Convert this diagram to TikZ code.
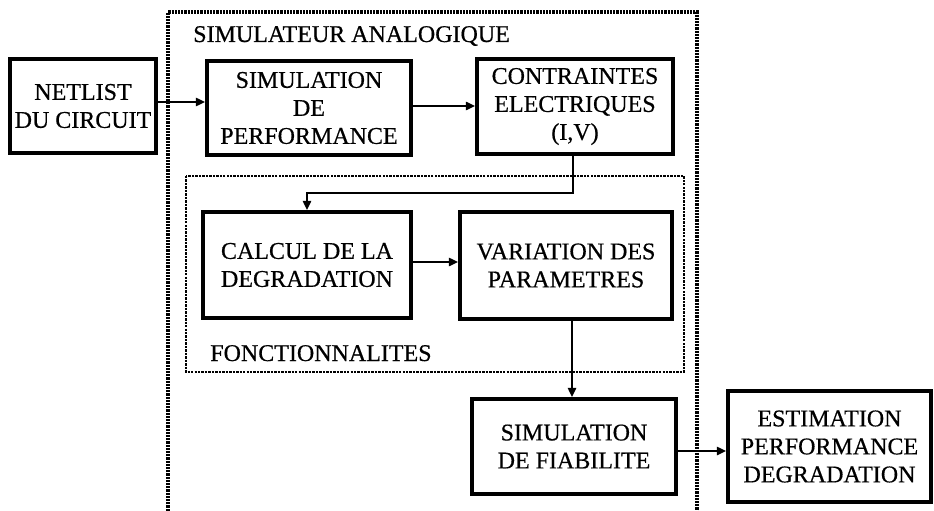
\documentclass[tikz,border=0pt]{standalone}
\usepackage{fontspec}
\setmainfont{Liberation Serif}[FakeBold=0.5]
\usetikzlibrary{arrows.meta}
\begin{document}
\begin{tikzpicture}[x=0.75pt,y=-0.75pt,
  box/.style={draw, line width=2.6pt, align=center, inner sep=0pt,
    font=\fontsize{18}{21}\selectfont},
  size/.style 2 args={minimum width={0.75pt*#1}, minimum height={0.75pt*#2}},
  arr/.style={line width=2pt, -{Triangle[length=7pt,width=6pt]}},
  outerdot/.style={line width=2.5pt, dash pattern=on 1.6pt off 0.8pt},
  innerdot/.style={line width=2pt, dash pattern=on 1.8pt off 0.8pt},
  grouplabel/.style={font=\fontsize{18}{21}\selectfont, inner sep=0pt, anchor=base west}]
  \clip (0,0) rectangle (934,510);

  % group frames
  \draw[outerdot] (168,530) -- (168,12) -- (697,12) -- (697,530);
  \draw[innerdot] (186,176) rectangle (684,372);
  \node[grouplabel] (simlabel) at (193,42) {SIMULATEUR ANALOGIQUE};
  \node[grouplabel] (fonclabel) at (210,361) {FONCTIONNALITES};

  % blocks
  \node[box, size={146}{94}] (netlist) at (83,106) {NETLIST\\DU CIRCUIT};
  \node[box, size={204}{94}] (simperf) at (309,108) {SIMULATION\\DE\\PERFORMANCE};
  \node[box, size={196}{95}] (contr) at (575,106.5) {CONTRAINTES\\ELECTRIQUES\\(I,V)};
  \node[box, size={208}{106}] (calcul) at (307,265) {CALCUL DE LA\\DEGRADATION};
  \node[box, size={212}{107}] (variation) at (566,265.5) {VARIATION DES\\PARAMETRES};
  \node[box, size={204}{95}] (simfiab) at (574,446.5) {SIMULATION\\DE FIABILITE};
  \node[box, size={203}{111}] (estim) at (829.5,446.5) {ESTIMATION\\PERFORMANCE\\DEGRADATION};

  % connectors
  \draw[arr] (netlist.east |- 0,102) -- (simperf.west |- 0,102);
  \draw[arr] (simperf.east |- 0,106) -- (contr.west |- 0,106);
  \coordinate (bendA) at (573,193);
  \draw[arr] (contr.south -| bendA) -- (bendA) -- (bendA -| calcul.north) -- (calcul.north);
  \draw[arr] (calcul.east |- 0,262) -- (variation.west |- 0,262);
  \draw[arr] (variation.south -| 572,0) -- (simfiab.north -| 572,0);
  \draw[arr] (simfiab.east |- 0,451) -- (estim.west |- 0,451);
\end{tikzpicture}
\end{document}
